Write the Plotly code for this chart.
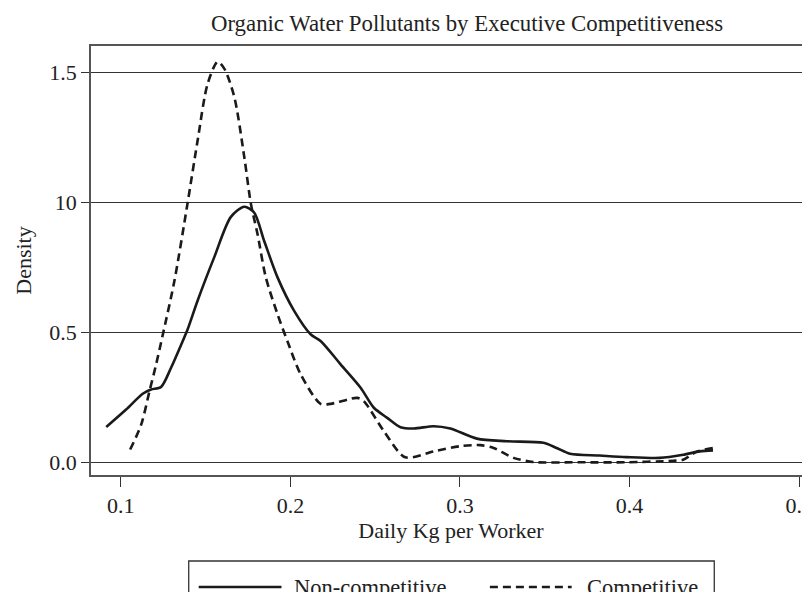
import plotly.graph_objects as go

# ---- data ----
noncomp_x = [0.0914, 0.1031, 0.1129, 0.1178, 0.1237, 0.1296, 0.1365, 0.1394, 0.1453, 0.1551,
             0.1649, 0.1728, 0.1786, 0.1845, 0.1924, 0.2022, 0.2119, 0.2178, 0.2296, 0.2414,
             0.2492, 0.2571, 0.2649, 0.2728, 0.2845, 0.2943, 0.3100, 0.3276, 0.3492, 0.3570,
             0.3649, 0.3825, 0.3982, 0.4178, 0.4316, 0.4414, 0.4492]
noncomp_y = [0.136, 0.203, 0.264, 0.280, 0.290, 0.364, 0.467, 0.512, 0.623, 0.790,
             0.945, 0.984, 0.962, 0.853, 0.712, 0.583, 0.493, 0.467, 0.377, 0.287,
             0.210, 0.171, 0.135, 0.130, 0.139, 0.130, 0.091, 0.081, 0.075, 0.055,
             0.033, 0.026, 0.020, 0.017, 0.029, 0.042, 0.046]

comp_x = [0.1055, 0.1120, 0.1169, 0.1208, 0.1247, 0.1316, 0.1394, 0.1453, 0.1512, 0.1571,
          0.1610, 0.1669, 0.1728, 0.1767, 0.1806, 0.1855, 0.1924, 0.1982, 0.2061, 0.2178,
          0.2237, 0.2394, 0.2433, 0.2551, 0.2678, 0.2845, 0.3002, 0.3120, 0.3198, 0.3316,
          0.3433, 0.3700, 0.3980, 0.4257, 0.4316, 0.4394, 0.4492]
comp_y = [0.049, 0.145, 0.274, 0.377, 0.490, 0.699, 1.000, 1.240, 1.458, 1.542,
          1.516, 1.407, 1.175, 0.995, 0.879, 0.712, 0.570, 0.467, 0.338, 0.225,
          0.225, 0.248, 0.235, 0.120, 0.019, 0.042, 0.062, 0.066, 0.055, 0.017,
          0.001, 0.000, 0.000, 0.006, 0.010, 0.040, 0.055]

x_ticks = [0.1, 0.2, 0.3, 0.4, 0.5]
x_tick_labels = ["0.1", "0.2", "0.3", "0.4", "0.5"]
y_ticks = [0.0, 0.5, 1.0, 1.5]
y_tick_labels = ["0.0", "0.5", "10", "1.5"]

series_names = ["Non-competitive", "Competitive"]

FONT = "Liberation Serif"
W, H = 810, 592
L, R, T, B = 83, 5, 38, 125

fig = go.Figure()
fig.add_trace(go.Scatter(x=noncomp_x, y=noncomp_y, mode="lines", name=series_names[0],
                         line=dict(color="#1a1a1a", width=2.6, shape="spline", smoothing=0.8)))
fig.add_trace(go.Scatter(x=comp_x, y=comp_y, mode="lines", name=series_names[1],
                         line=dict(color="#1a1a1a", width=2.6, shape="spline", smoothing=0.8,
                                   dash="8px,5px")))

# manual legend (pixel positions converted to paper coords)
pw, ph = W - L - R, H - T - B
def px(xp):
    return (xp - L) / pw
def py(yp):
    return (H - B - yp) / ph

box_top, box_bot = 553, 610
legend_y = 579
fig.add_shape(type="rect", xref="paper", yref="paper", x0=px(181), x1=px(708),
              y0=py(box_bot), y1=py(box_top), line=dict(color="#333", width=1.3))
fig.add_shape(type="line", xref="paper", yref="paper", x0=px(191), x1=px(274),
              y0=py(legend_y), y1=py(legend_y), line=dict(color="#1a1a1a", width=2.6))
fig.add_shape(type="line", xref="paper", yref="paper", x0=px(483), x1=px(565),
              y0=py(legend_y), y1=py(legend_y), line=dict(color="#1a1a1a", width=2.6, dash="8px,5px"))
fig.add_annotation(xref="paper", yref="paper", x=px(285), y=py(legend_y), text=series_names[0],
                   showarrow=False, xanchor="left", yanchor="middle",
                   font=dict(family=FONT, size=22.5, color="#222"))
fig.add_annotation(xref="paper", yref="paper", x=px(578), y=py(legend_y), text=series_names[1],
                   showarrow=False, xanchor="left", yanchor="middle",
                   font=dict(family=FONT, size=22.5, color="#222"))

fig.update_layout(
    width=W, height=H,
    margin=dict(l=L, r=R, t=T, b=B),
    paper_bgcolor="white", plot_bgcolor="white",
    showlegend=False,
    font=dict(family=FONT, size=22, color="#222"),
    title=dict(text="Organic Water Pollutants by Executive Competitiveness",
               x=459 / W, xanchor="center", y=1 - 15 / H, yanchor="middle",
               font=dict(family=FONT, size=22.8, color="#222")),
    xaxis=dict(range=[0.0824, 0.507], tickvals=x_ticks, ticktext=x_tick_labels,
               showgrid=False, zeroline=False, showline=True, mirror=True,
               linecolor="#555", linewidth=1.5, ticks="outside", ticklen=10,
               tickcolor="#333", tickwidth=1.3,
               title=dict(text="Daily Kg per Worker", standoff=2,
                          font=dict(family=FONT, size=22, color="#222"))),
    yaxis=dict(range=[-0.049, 1.603], tickvals=y_ticks, ticktext=y_tick_labels,
               showgrid=True, gridcolor="#333", gridwidth=1.3, zeroline=False,
               showline=True, mirror=True, linecolor="#555", linewidth=1.5,
               ticks="outside", ticklen=8, tickcolor="#333", tickwidth=1.3,
               title=dict(text="Density", standoff=12,
                          font=dict(family=FONT, size=22, color="#222"))),
)

fig.write_html("out.html")
